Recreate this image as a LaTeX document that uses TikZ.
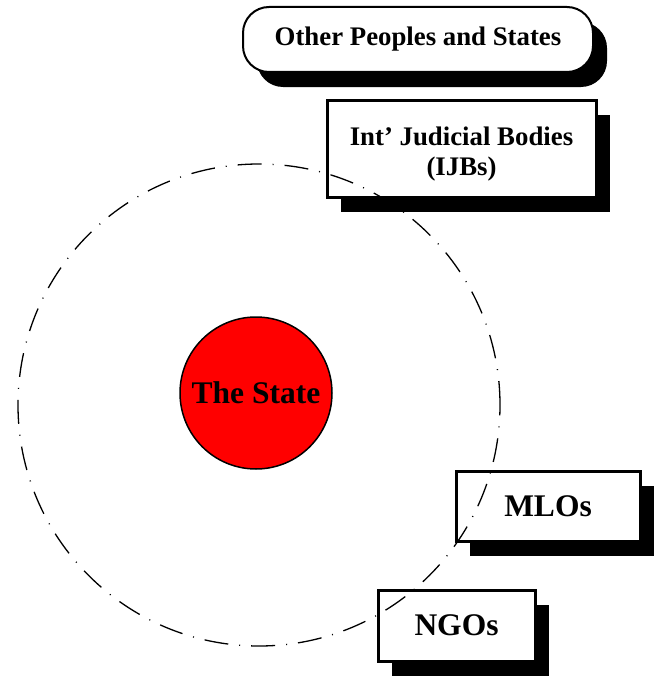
\documentclass[tikz,border=0pt]{standalone}
\usepackage{fontspec}
\setmainfont{Liberation Serif}
\usetikzlibrary{shadows}

\begin{document}
\begin{tikzpicture}[x=1pt,y=-1pt,
  box node/.style={rectangle,draw,line width=3pt,fill=white,inner sep=0pt,
    drop shadow={shadow xshift=14pt,shadow yshift=-15pt,fill=black,opacity=1},
    font=\bfseries\fontsize{31.5}{34}\selectfont},
  small text/.style={font=\bfseries\fontsize{26.8}{30}\selectfont},
  pill node/.style={box node,rounded corners=26pt,line width=2pt,small text},
  state node/.style={circle,draw,line width=1.5pt,fill=red,inner sep=0pt,
    font=\bfseries\fontsize{31.5}{34}\selectfont},
  orbit/.style={circle,draw,line width=1.3pt,inner sep=0pt,
    dash pattern=on 24pt off 11pt on 1pt off 11pt}]
  \useasboundingbox (0,0) rectangle (657,677);

  \node[pill node,minimum width=350pt,minimum height=65pt] (others) at (418,39.5) {Other Peoples and States};
  \node[box node,small text,align=center,minimum width=269pt,minimum height=97pt] (ijb) at (461.5,148.5) {\rule{0pt}{29pt}Int’ Judicial Bodies\\(IJBs)};
  \node[box node,minimum width=184pt,minimum height=70pt] (mlo) at (548,506) {MLOs};
  \node[box node,minimum width=157pt,minimum height=71pt] (ngo) at (456.5,625.5) {NGOs};

  \node[state node,minimum size=152pt] (state) at (256,393) {The State};
  \node[orbit,minimum size=482pt] (ring) at (259,405) {};
\end{tikzpicture}
\end{document}
